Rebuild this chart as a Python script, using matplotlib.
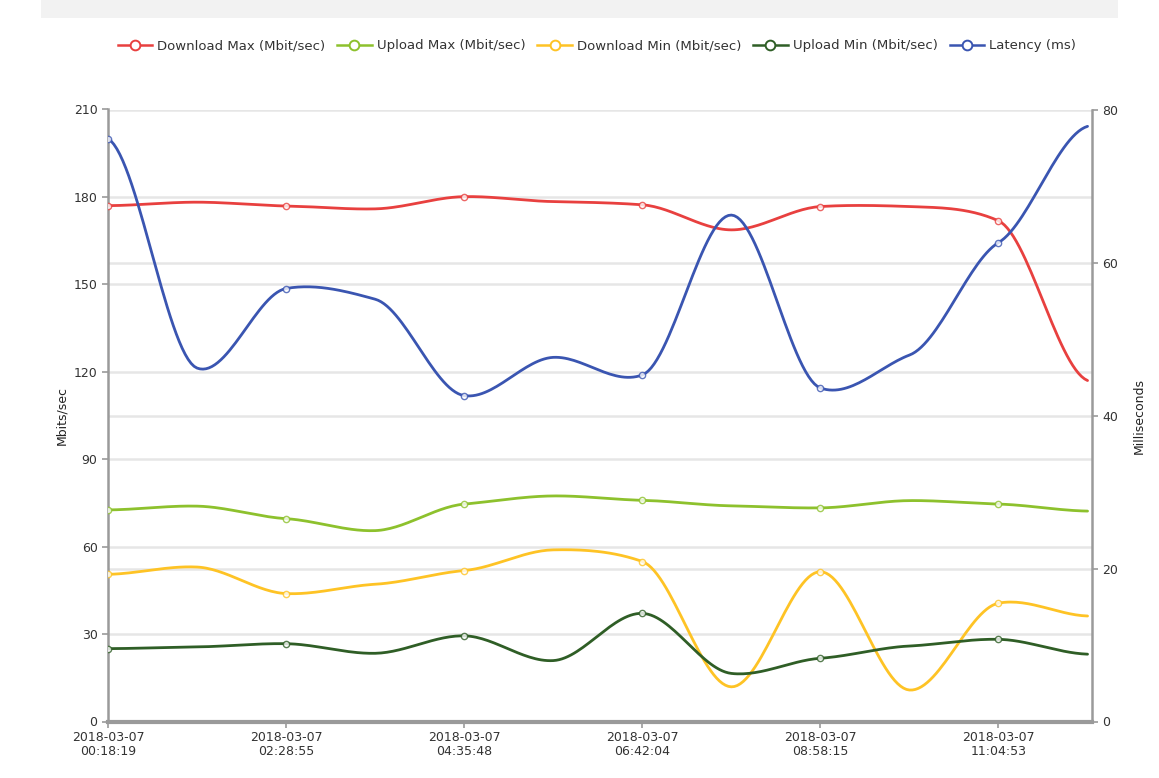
import numpy as np
import matplotlib
matplotlib.use('Agg')
import matplotlib.pyplot as plt
from matplotlib.lines import Line2D
from matplotlib.patches import Rectangle
from matplotlib.transforms import blended_transform_factory

plt.rcParams['font.family'] = ['DejaVu Sans']

# tick labels (every other sample is labelled)
tickLabels = ['2018-03-07\n00:18:19', '2018-03-07\n02:28:55', '2018-03-07\n04:35:48',
              '2018-03-07\n06:42:04', '2018-03-07\n08:58:15', '2018-03-07\n11:04:53']

downloadMax = [177.0, 178.2, 176.9, 175.9, 180.1, 178.4, 177.3, 168.7, 176.7, 176.7, 171.8, 117.0]
uploadMax = [72.6, 73.9, 69.6, 65.5, 74.6, 77.4, 75.9, 74.0, 73.3, 75.8, 74.6, 72.2]
downloadMin = [50.5, 53.0, 43.9, 47.1, 51.8, 58.9, 54.9, 11.9, 51.4, 10.8, 40.6, 36.2]
uploadMin = [25.0, 25.6, 26.7, 23.4, 29.4, 20.9, 37.1, 16.5, 21.7, 25.9, 28.2, 23.1]
latency = [76.2, 46.2, 56.6, 55.2, 42.6, 47.6, 45.3, 66.2, 43.6, 47.9, 62.6, 77.8]

names = ['Download Max (Mbit/sec)', 'Upload Max (Mbit/sec)', 'Download Min (Mbit/sec)',
         'Upload Min (Mbit/sec)', 'Latency (ms)']
colors = ['#e8403f', '#8dc12d', '#fec325', '#2f5e26', '#3a55b1']


def	cardinalSlopes(y, c=0.23):
	y = np.asarray(y, dtype=float)
	ypad = np.concatenate(([y[0]], y, [y[-1]]))
	return c * (ypad[2:] - ypad[:-2])


def	smoothLine(x, y, steps=30):
	# cardinal hermite spline through the points, for drawing only
	x = np.asarray(x, dtype=float)
	y = np.asarray(y, dtype=float)
	t = cardinalSlopes(y)
	xs, ys = [], []
	for i in range(len(x) - 1):
		dx = x[i + 1] - x[i]
		u = np.linspace(0, 1, steps, endpoint=False)
		h00 = 2 * u**3 - 3 * u**2 + 1
		h10 = u**3 - 2 * u**2 + u
		h01 = -2 * u**3 + 3 * u**2
		h11 = u**3 - u**2
		xs.append(x[i] + u * dx)
		ys.append(h00 * y[i] + h10 * t[i] + h01 * y[i + 1] + h11 * t[i + 1])
	xs.append([x[-1]])
	ys.append([y[-1]])
	return np.concatenate(xs), np.concatenate(ys)


fig = plt.figure(figsize=(11.59, 7.78), dpi=100)
fig.patches.append(Rectangle((0.035, 0.977), 0.93, 0.023, transform=fig.transFigure,
                             facecolor='#f2f2f2', edgecolor='none', zorder=0))

ax = fig.add_axes([108 / 1159, 56.5 / 778, 984 / 1159, 612 / 778])
ax2 = ax.twinx()
ax.set_zorder(1)
ax.patch.set_visible(False)
ax2.set_zorder(2)

x = np.arange(len(latency))
ax.set_xlim(0, 11.05)
ax.set_ylim(0, 210)
ax2.set_ylim(0, 80)
ax.set_yticks(np.arange(0, 211, 30))
ax2.set_yticks(np.arange(0, 81, 20))
ax.set_xticks(x[::2])
ax.set_xticklabels(tickLabels, linespacing=1.1)

gridColor = '#e6e6e6'
for v in ax.get_yticks()[1:]:
	ax.axhline(v, color=gridColor, lw=1.8, zorder=0)
trans = blended_transform_factory(ax.transAxes, ax2.transData)
for v in ax2.get_yticks()[1:]:
	ax.plot([0, 1], [v, v], transform=trans, color=gridColor, lw=1.8, zorder=0)

series = [downloadMax, uploadMax, downloadMin, uploadMin]
for vals, col in zip(series, colors[:4]):
	sx, sy = smoothLine(x, vals)
	ax.plot(sx, sy, color=col, lw=2.0, zorder=3, solid_capstyle='round')
	ax.plot(x[::2], np.asarray(vals)[::2], 'o', ms=4.5, mfc='white', mec=col,
			mew=1.0, alpha=0.8, zorder=4)

sx, sy = smoothLine(x, latency)
ax2.plot(sx, sy, color=colors[4], lw=2.0, zorder=3, solid_capstyle='round')
ax2.plot(x[::2], np.asarray(latency)[::2], 'o', ms=4.5, mfc='white', mec=colors[4],
		mew=1.0, alpha=0.8, zorder=4)

axisColor = '#9a9a9a'
for a in (ax, ax2):
	a.spines['top'].set_visible(False)
	a.spines['bottom'].set_visible(False)
	a.spines['left'].set_color(axisColor)
	a.spines['right'].set_color(axisColor)
	a.spines['left'].set_linewidth(1.8)
	a.spines['right'].set_linewidth(1.8)
ax.spines['right'].set_visible(False)
ax2.spines['left'].set_visible(False)
ax.spines['bottom'].set_visible(True)
ax.spines['bottom'].set_color(axisColor)
ax.spines['bottom'].set_linewidth(3)

ax.tick_params(axis='both', colors=axisColor, labelcolor='#333333', labelsize=9,
			   length=4, width=1.2)
ax2.tick_params(axis='y', colors=axisColor, labelcolor='#333333', labelsize=9,
				length=4, width=1.2)
ax.tick_params(axis='x', pad=3)

ax.set_ylabel('Mbits/sec', fontsize=9, color='#222222', labelpad=4)
ax2.set_ylabel('Milliseconds', fontsize=9, color='#222222', labelpad=10)

handles = [Line2D([], [], color=c, lw=1.8, marker='o', ms=7, mfc='white', mec=c, mew=1.4)
		   for c in colors]
fig.legend(handles, names, loc='center', bbox_to_anchor=(0.515, 0.941), ncol=5,
		   frameon=False, fontsize=9.5, handlelength=2.6, handletextpad=0.4,
		   columnspacing=0.9, labelcolor='#333333')

fig.savefig('out.png', dpi=100)
